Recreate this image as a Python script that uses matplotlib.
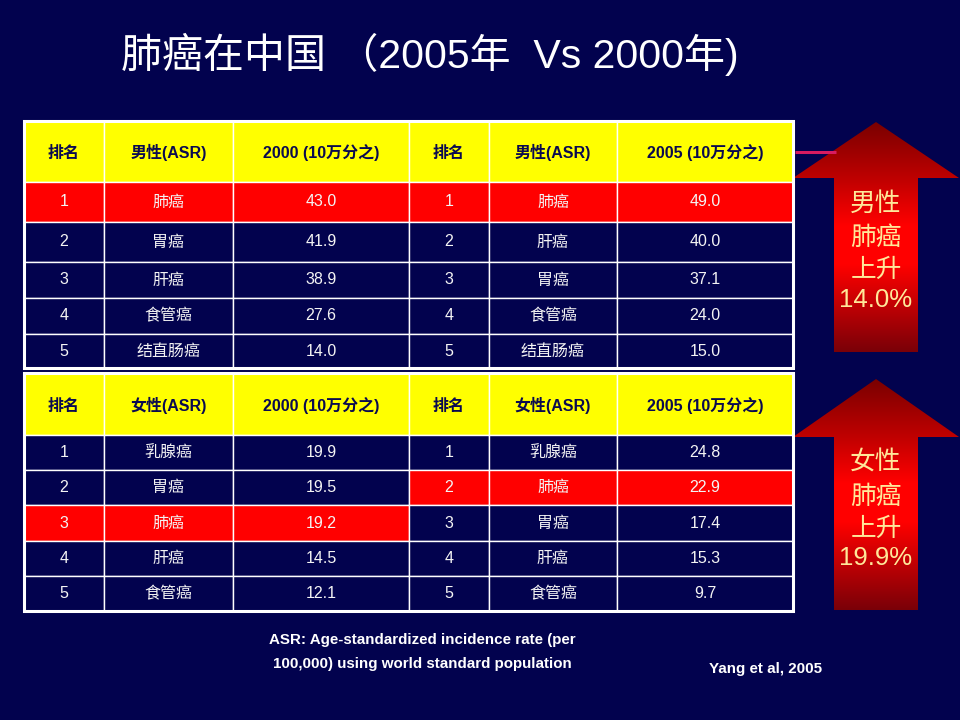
import numpy as np
import matplotlib.pyplot as plt
from matplotlib.patches import Rectangle, Polygon
from matplotlib.colors import LinearSegmentedColormap

# ---- data ----
title = "肺癌在中国 （2005年  Vs 2000年)"
ranks = [1, 2, 3, 4, 5]

male_header = ["排名", "男性(ASR)", "2000 (10万分之)", "排名", "男性(ASR)", "2005 (10万分之)"]
male_sites_2000 = ["肺癌", "胃癌", "肝癌", "食管癌", "结直肠癌"]
male_asr_2000 = [43.0, 41.9, 38.9, 27.6, 14.0]
male_sites_2005 = ["肺癌", "肝癌", "胃癌", "食管癌", "结直肠癌"]
male_asr_2005 = [49.0, 40.0, 37.1, 24.0, 15.0]

female_header = ["排名", "女性(ASR)", "2000 (10万分之)", "排名", "女性(ASR)", "2005 (10万分之)"]
female_sites_2000 = ["乳腺癌", "胃癌", "肺癌", "肝癌", "食管癌"]
female_asr_2000 = [19.9, 19.5, 19.2, 14.5, 12.1]
female_sites_2005 = ["乳腺癌", "肺癌", "胃癌", "肝癌", "食管癌"]
female_asr_2005 = [24.8, 22.9, 17.4, 15.3, 9.7]

highlight_site = "肺癌"
rise_male = ["男性", "肺癌", "上升", "14.0%"]
rise_female = ["女性", "肺癌", "上升", "19.9%"]

footnote = ["ASR: Age-standardized incidence rate (per",
            "100,000) using world standard population"]
source = "Yang et al, 2005"

# ---- style ----
NAVY = "#02024E"
YELLOW = "#FFFF00"
RED = "#FF0000"
CREAM = "#FFE89A"
FONT = ["Liberation Sans", "Noto Sans CJK SC", "DejaVu Sans"]

col_x = [24, 104, 233, 409, 489, 617, 793]
top_rows = [121, 182, 222, 262, 298, 334, 368]
bottom_rows = [373, 435, 470, 505, 541, 576, 611]


def draw_table(ax, row_y, header, sites_a, vals_a, sites_b, vals_b):
    # header: all labels share one baseline
    for j, label in enumerate(header):
        x0, x1 = col_x[j], col_x[j + 1]
        ax.add_patch(Rectangle((x0, row_y[0]), x1 - x0, row_y[1] - row_y[0],
                               facecolor=YELLOW, edgecolor="white", lw=1))
        ax.text((x0 + x1) / 2, (row_y[0] + row_y[1]) / 2 + 6.5, label,
                ha="center", va="baseline", fontsize=11.5, fontweight="bold",
                color="#0A0A50", family=FONT)
    for i in range(len(ranks)):
        y0, y1 = row_y[i + 1], row_y[i + 2]
        cells = [str(ranks[i]), sites_a[i], f"{vals_a[i]:.1f}",
                 str(ranks[i]), sites_b[i], f"{vals_b[i]:.1f}"]
        hl = [sites_a[i] == highlight_site] * 3 + [sites_b[i] == highlight_site] * 3
        for j, label in enumerate(cells):
            x0, x1 = col_x[j], col_x[j + 1]
            ax.add_patch(Rectangle((x0, y0), x1 - x0, y1 - y0,
                                   facecolor=RED if hl[j] else NAVY,
                                   edgecolor="white", lw=1))
            ax.text((x0 + x1) / 2, (y0 + y1) / 2, label, ha="center",
                    va="center", fontsize=11.5, color="#F4F4F4", family=FONT)
    ax.add_patch(Rectangle((col_x[0], row_y[0]), col_x[-1] - col_x[0],
                           row_y[-1] - row_y[0], fill=False,
                           edgecolor="white", lw=2.2))


arrow_cmap = LinearSegmentedColormap.from_list(
    "arrow", [(0.0, "#7A0000"), (0.25, "#C00000"), (0.45, "#FF0000"),
              (0.62, "#FF0000"), (1.0, "#7A0008")])


def draw_arrow(ax, cx, tip, head_y, bottom, head_half, shaft_half, lines, ys):
    verts = [(cx, tip), (cx + head_half, head_y), (cx + shaft_half, head_y),
             (cx + shaft_half, bottom), (cx - shaft_half, bottom),
             (cx - shaft_half, head_y), (cx - head_half, head_y)]
    poly = Polygon(verts, closed=True, facecolor="none", edgecolor="none")
    ax.add_patch(poly)
    grad = np.linspace(0, 1, 256).reshape(-1, 1)
    im = ax.imshow(grad, cmap=arrow_cmap, aspect="auto", origin="upper",
                   extent=(cx - head_half, cx + head_half, bottom, tip),
                   interpolation="bilinear")
    im.set_clip_path(poly)
    for line, y in zip(lines, ys):
        ax.text(cx, y, line, ha="center", va="center", fontsize=18.5,
                color=CREAM, family=FONT)


fig = plt.figure(figsize=(9.6, 7.2), dpi=100, facecolor=NAVY)
ax = fig.add_axes([0, 0, 1, 1])
ax.set_facecolor(NAVY)
ax.set_xlim(0, 960)
ax.set_ylim(720, 0)
ax.axis("off")

ax.text(121, 54, title, ha="left", va="center", fontsize=29.5,
        fontweight="medium", color="white", family=FONT)

draw_table(ax, top_rows, male_header, male_sites_2000, male_asr_2000,
           male_sites_2005, male_asr_2005)
draw_table(ax, bottom_rows, female_header, female_sites_2000, female_asr_2000,
           female_sites_2005, female_asr_2005)

# connector line from table to arrow
ax.plot([795, 836], [152, 152], color="#D81B60", lw=2.2, solid_capstyle="butt")

draw_arrow(ax, 876, 122, 178, 352, 83, 42, rise_male, [204, 238, 270, 300])
draw_arrow(ax, 876, 379, 437, 610, 83, 42, rise_female, [463, 497, 529, 558])

ax.text(422, 640, footnote[0], ha="center", va="center", fontsize=10.9,
        fontweight="bold", color="white", family=FONT)
ax.text(422, 664, footnote[1], ha="center", va="center", fontsize=10.9,
        fontweight="bold", color="white", family=FONT)
ax.text(766, 669, source, ha="center", va="center", fontsize=10.9,
        fontweight="bold", color="white", family=FONT)

fig.savefig("out.png", dpi=100, facecolor=NAVY)
